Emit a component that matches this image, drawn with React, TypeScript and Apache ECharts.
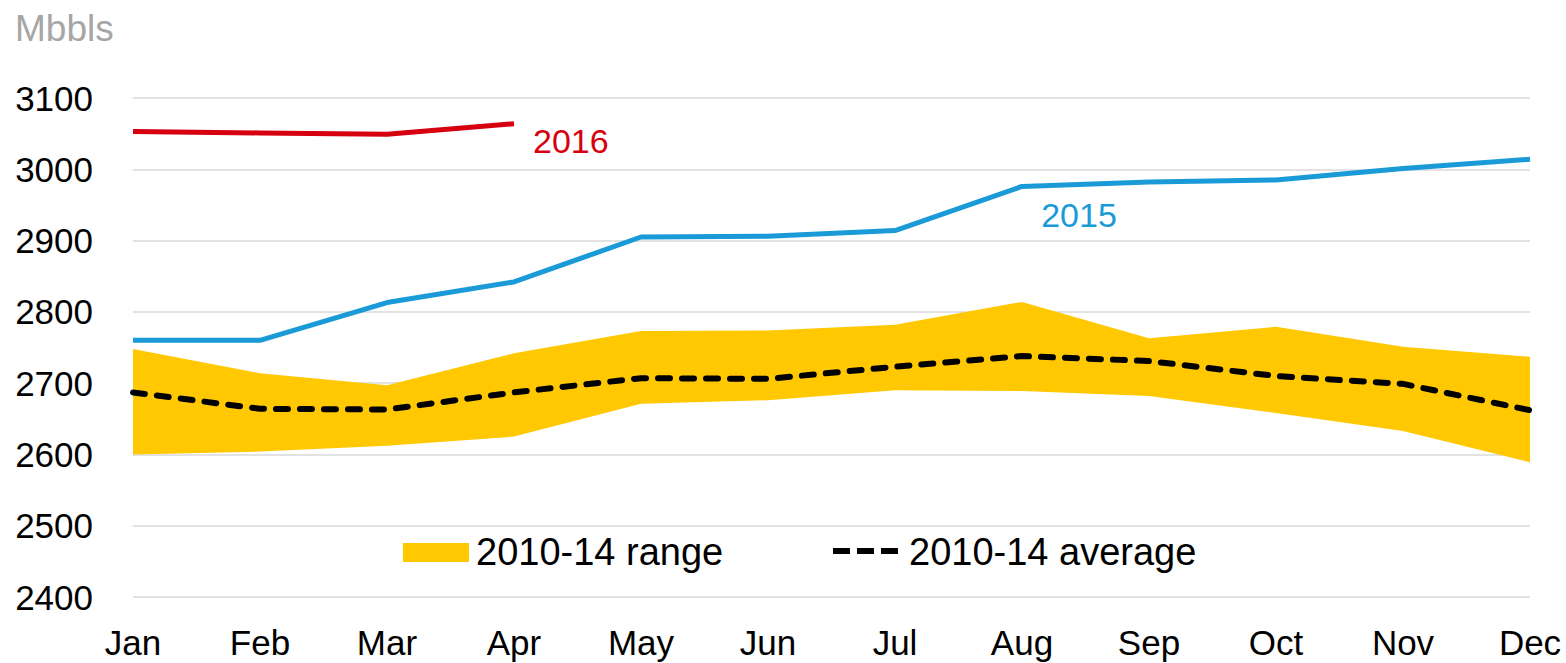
import React, { useEffect, useRef } from "react";
import * as echarts from "echarts";

const months = ["Jan", "Feb", "Mar", "Apr", "May", "Jun", "Jul", "Aug", "Sep", "Oct", "Nov", "Dec"];
const series2016 = [3053, 3051, 3049, 3064];
const series2015 = [2760, 2760, 2813, 2842, 2905, 2906, 2914, 2976, 2982, 2985, 3001, 3014];
const rangeHigh = [2748, 2714, 2697, 2742, 2773, 2774, 2782, 2814, 2763, 2779, 2751, 2737];
const rangeLow = [2600, 2604, 2612, 2625, 2671, 2676, 2690, 2689, 2682, 2658, 2633, 2589];
const average = [2687, 2664, 2663, 2687, 2707, 2706, 2723, 2738, 2731, 2710, 2699, 2662];
const yMin = 2400;
const yMax = 3100;
const yStep = 100;
const legendLabels = ["2010-14 range", "2010-14 average"];

const FONT = "'Liberation Sans', Arial, sans-serif";
const RED = "#d6000f";
const BLUE = "#1a9bd7";
const GOLD = "#ffc800";

export default function App() {
  const ref = useRef<HTMLDivElement>(null);

  useEffect(() => {
    if (!ref.current) return;
    const chart = echarts.init(ref.current, undefined, { renderer: "svg" });
    const rangeSpan = rangeHigh.map((h, i) => h - rangeLow[i]);
    const data2015 = series2015.map((v, i) =>
      i === 7
        ? {
            value: v,
            label: {
              show: true,
              position: "bottom",
              distance: 5,
              offset: [57, 7],
              formatter: "2015",
              color: BLUE,
              fontSize: 34,
              fontFamily: FONT,
            },
          }
        : v
    );

    chart.setOption({
      animation: false,
      textStyle: { fontFamily: FONT },
      title: {
        text: "Mbbls",
        left: 15,
        top: 10,
        padding: 0,
        textStyle: { color: "#a6a6a6", fontSize: 37, fontWeight: "normal", fontFamily: FONT },
      },
      grid: {
        left: 133,
        right: 36,
        top: 98,
        bottom: 66,
        containLabel: false,
        outerBoundsMode: "none",
      },
      xAxis: {
        type: "category",
        data: months,
        boundaryGap: false,
        axisLine: { show: false },
        axisTick: { show: false },
        axisLabel: { color: "#000", fontSize: 35, margin: 28, fontFamily: FONT },
        splitLine: { show: false },
      },
      yAxis: {
        type: "value",
        min: yMin,
        max: yMax,
        interval: yStep,
        axisLine: { show: false },
        axisTick: { show: false },
        axisLabel: {
          color: "#000",
          fontSize: 35,
          margin: 40,
          fontFamily: FONT,
          formatter: (v: number) => String(v),
        },
        splitLine: { lineStyle: { color: "#d9d9d9", width: 1.5 } },
      },
      graphic: [
        {
          type: "rect",
          shape: { x: 403, y: 543, width: 66, height: 19 },
          style: { fill: GOLD },
          silent: true,
        },
        {
          type: "text",
          x: 476,
          y: 552,
          style: {
            text: legendLabels[0],
            fill: "#000",
            fontSize: 38,
            fontFamily: FONT,
            verticalAlign: "middle",
            align: "left",
          },
          silent: true,
        },
        {
          type: "line",
          shape: { x1: 833, y1: 551, x2: 899, y2: 551 },
          style: { stroke: "#000", lineWidth: 6, lineDash: [17, 7] },
          silent: true,
        },
        {
          type: "text",
          x: 909,
          y: 552,
          style: {
            text: legendLabels[1],
            fill: "#000",
            fontSize: 38,
            fontFamily: FONT,
            verticalAlign: "middle",
            align: "left",
          },
          silent: true,
        },
      ],
      series: [
        {
          name: "rangeLow",
          type: "line",
          data: rangeLow,
          stack: "range",
          symbol: "none",
          silent: true,
          lineStyle: { opacity: 0, width: 0 },
          z: 1,
        },
        {
          name: legendLabels[0],
          type: "line",
          data: rangeSpan,
          stack: "range",
          symbol: "none",
          silent: true,
          color: GOLD,
          lineStyle: { width: 0, opacity: 0 },
          areaStyle: { color: GOLD, opacity: 1 },
          z: 1,
        },
        {
          name: legendLabels[1],
          type: "line",
          data: average,
          symbol: "none",
          color: "#000",
          lineStyle: { color: "#000", width: 6, type: [12, 12], cap: "round" },
          z: 3,
        },
        {
          name: "2015",
          type: "line",
          data: data2015,
          symbol: "circle",
          symbolSize: 0.1,
          showSymbol: true,
          color: BLUE,
          itemStyle: { color: BLUE },
          lineStyle: { color: BLUE, width: 5 },
          z: 4,
        },
        {
          name: "2016",
          type: "line",
          data: series2016,
          symbol: "none",
          color: RED,
          lineStyle: { color: RED, width: 5 },
          endLabel: {
            show: true,
            formatter: "2016",
            color: RED,
            fontSize: 34,
            fontFamily: FONT,
            offset: [11, 17],
          },
          z: 5,
        },
      ],
    });
    return () => chart.dispose();
  }, []);

  return (
    <div
      ref={ref}
      style={{ position: "fixed", left: 0, top: 0, width: 1566, height: 663, background: "#fff" }}
    />
  );
}
